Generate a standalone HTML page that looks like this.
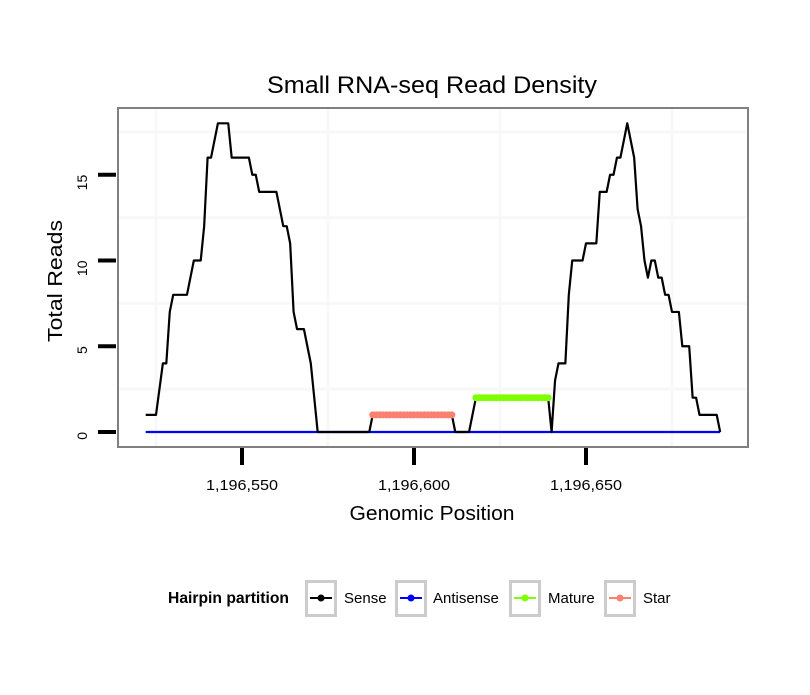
<!DOCTYPE html>
<html><head><meta charset="utf-8"><style>
html,body{margin:0;padding:0;background:#fff;}
svg text{font-family:"Liberation Sans",Arial,sans-serif;}
</style></head><body>
<svg id="chart" width="810" height="690" viewBox="0 0 810 690" xmlns="http://www.w3.org/2000/svg">
<rect x="0" y="0" width="810" height="690" fill="#fff"/>
<text x="432" y="93" font-size="24" text-anchor="middle" textLength="330" lengthAdjust="spacingAndGlyphs">Small RNA-seq Read Density</text>
<g id="grid"></g>
<g id="series"></g>
<rect x="118" y="108" width="630" height="339" fill="none" stroke="#808080" stroke-width="2"/>
<g id="axes"></g>
<text x="432" y="520" font-size="20" text-anchor="middle" textLength="165" lengthAdjust="spacingAndGlyphs">Genomic Position</text>
<text transform="translate(62,281) rotate(-90)" font-size="20" text-anchor="middle" textLength="122" lengthAdjust="spacingAndGlyphs">Total Reads</text>
<g>
<text x="168" y="603" font-size="15.5" font-weight="bold" textLength="121" lengthAdjust="spacingAndGlyphs">Hairpin partition</text>
<g id="legend-entries"></g>
</g>
</svg>
<script>
const sensePos=[522,525,527,528,529,530,534,536,538,539,540,541,543,546,547,552,553,554,555,560,562,563,564,565,566,568,570,572,587,588,611,612,616,618,639,640,641,642,644,645,646,649,650,653,654,656,657,658,659,660,662,664,665,666,667,668,669,670,671,672,673,674,675,677,678,680,681,682,683,688,689];
const senseVal=[1,1,4,4,7,8,8,10,10,12,16,16,18,18,16,16,15,15,14,14,12,12,11,7,6,6,4,0,0,1,1,0,0,2,2,0,3,4,4,8,10,10,11,11,14,14,15,15,16,16,18,16,13,12,10,9,10,10,9,9,8,8,7,7,5,5,2,2,1,1,0];
const antisensePos=[522,689];
const antisenseVal=[0,0];
const starPos=[588,589,590,591,592,593,594,595,596,597,598,599,600,601,602,603,604,605,606,607,608,609,610,611];
const starVal=[1,1,1,1,1,1,1,1,1,1,1,1,1,1,1,1,1,1,1,1,1,1,1,1];
const maturePos=[618,619,620,621,622,623,624,625,626,627,628,629,630,631,632,633,634,635,636,637,638,639];
const matureVal=[2,2,2,2,2,2,2,2,2,2,2,2,2,2,2,2,2,2,2,2,2,2];
const xTicks=[1196550,1196600,1196650];
const xTickLabels=["1,196,550","1,196,600","1,196,650"];
const xMinor=[1196525,1196575,1196625,1196675];
const yTicks=[0,5,10,15];
const yMinor=[2.5,7.5,12.5,17.5];
const legendLabels=["Sense","Antisense","Mature","Star"];
const legendColors=["#000000","#0000ff","#7fff00","#fa8072"];

const BASE=1196000;
const NS="http://www.w3.org/2000/svg";
function xs(v){return 242+(v-1196550)*3.44;}
function ys(v){return 432-v*17.15;}
function mk(tag,attrs,parent){const e=document.createElementNS(NS,tag);for(const k in attrs)e.setAttribute(k,attrs[k]);parent.appendChild(e);return e;}
const grid=document.getElementById('grid'),series=document.getElementById('series'),axes=document.getElementById('axes');
xMinor.forEach(v=>{const l=mk('line',{x1:xs(v),x2:xs(v),y1:109,y2:446,stroke:'#f8f8f8','stroke-width':3},grid);

});
yMinor.forEach(v=>{const l=mk('line',{x1:119,x2:747,y1:ys(v),y2:ys(v),stroke:'#f8f8f8','stroke-width':3},grid);

});
function pts(p,v){return p.map((x,i)=>xs(BASE+x)+','+ys(v[i])).join(' ');}
const a=mk('polyline',{points:pts(antisensePos,antisenseVal),fill:'none',stroke:'#0000ff','stroke-width':2.2},series);


const s=mk('polyline',{points:pts(sensePos,senseVal),fill:'none',stroke:'#000','stroke-width':2.2,'stroke-linejoin':'round'},series);


function seg(p,v,c,name){
const l=mk('polyline',{points:pts(p,v),fill:'none',stroke:c,'stroke-width':6,'stroke-linecap':'round'},series);


p.forEach((x,i)=>{const d=mk('circle',{cx:xs(BASE+x),cy:ys(v[i]),r:3.5,fill:c},series);

});}
seg(starPos,starVal,'#fa8072','star');
seg(maturePos,matureVal,'#7fff00','mature');
xTicks.forEach((v,i)=>{const t=mk('line',{x1:xs(v),x2:xs(v),y1:448,y2:465,stroke:'#000','stroke-width':4},axes);


const tx=mk('text',{x:xs(v),y:490,'font-size':15,'text-anchor':'middle',textLength:72,lengthAdjust:'spacingAndGlyphs'},axes);tx.textContent=xTickLabels[i];

});
yTicks.forEach(v=>{const t=mk('line',{x1:98,x2:116,y1:ys(v),y2:ys(v),stroke:'#000','stroke-width':4},axes);


const tx=mk('text',{transform:'translate(87,'+ys(v)+') rotate(-90)','font-size':14,'text-anchor':'end'},axes);tx.textContent=String(v);

});
const le=document.getElementById('legend-entries');
const keyX=[305,395,509,604],labX=[344,433,548,643];
legendLabels.forEach((n,i)=>{const g=mk('g',{},le);


mk('rect',{x:keyX[i]+1.5,y:581.5,width:29,height:34,fill:'#fff',stroke:'#cccccc','stroke-width':3},g);
mk('line',{x1:keyX[i]+5,x2:keyX[i]+27,y1:598,y2:598,stroke:legendColors[i],'stroke-width':2},g);
mk('circle',{cx:keyX[i]+16,cy:598,r:3.5,fill:legendColors[i]},g);
const t=mk('text',{x:labX[i],y:603,'font-size':15},g);t.textContent=n;});
</script>
</body></html>
